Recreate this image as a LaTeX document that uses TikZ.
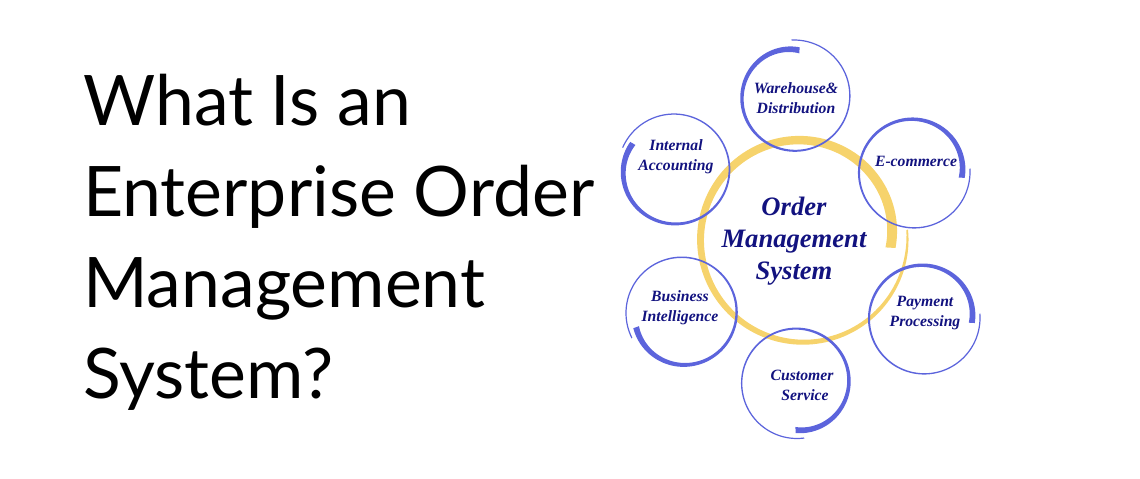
\documentclass[tikz,border=0pt]{standalone}
\usepackage{fontspec}
\setmainfont{Lato}
\newfontfamily\labelfont{Liberation Serif}
\usetikzlibrary{positioning}
\definecolor{ringblue}{HTML}{5C64DC}
\definecolor{hubyellow}{HTML}{F6D36C}
\definecolor{labelnavy}{HTML}{12127F}
\tikzset{
  headline/.style={anchor=base west,align=left,inner sep=0pt,font=\fontsize{69.7}{91}\selectfont},
  ringlabel/.style={align=center,inner sep=0pt,text=labelnavy,font=\labelfont\itshape\bfseries\fontsize{15.7}{20}\selectfont},
  hublabel/.style={align=center,inner sep=0pt,text=labelnavy,font=\labelfont\itshape\bfseries\fontsize{26.6}{32}\selectfont}
}
% centre x, centre y, radius from, to, angle from, to, width from, to, width power
\newcommand{\brushring}[9]{
  \fill plot[variable=\t,domain=0.001:1,samples=150]
    ({#1+(#4+(#3-#4)*(1-pow(\t,3))+(#7+(#8-#7)*pow(\t,#9))/2)*cos(#5+(#6-#5)*\t)},
     {#2-(#4+(#3-#4)*(1-pow(\t,3))+(#7+(#8-#7)*pow(\t,#9))/2)*sin(#5+(#6-#5)*\t)})
    -- plot[variable=\t,domain=1:0.001,samples=150]
    ({#1+(#4+(#3-#4)*(1-pow(\t,3))-(#7+(#8-#7)*pow(\t,#9))/2)*cos(#5+(#6-#5)*\t)},
     {#2-(#4+(#3-#4)*(1-pow(\t,3))-(#7+(#8-#7)*pow(\t,#9))/2)*sin(#5+(#6-#5)*\t)})
    -- cycle;
}
\begin{document}
\begin{tikzpicture}[x=1pt,y=-1pt]
  \useasboundingbox (0,0) rectangle (1140,479);
  \node[headline] (title) at (83,398) {What Is an\\Enterprise Order\\Management\\System?};
  % hub ring
  \begin{scope}[fill=hubyellow]
    \brushring{803}{238}{104.5}{88}{5}{-366.5}{1.5}{10}{0.65}
  \end{scope}
  % outer rings
  \begin{scope}[fill=ringblue]
    \foreach \cx/\cy/\rs/\re/\as/\ae in {794/96/56/46/93/-277,674/170/56/49/157/-213,
      914/172/56/48/4/-367,682/313/56/48/207/-163,924/318/56/48/5/-366,797/383/55.5/47/278/-92}
      {\brushring{\cx}{\cy}{\rs}{\re}{\as}{\ae}{1.2}{6}{2.5}}
  \end{scope}
  \node[hublabel] (order) at (794,241) {Order\\Management\\System};
  \node[ringlabel] (warehouse) at (796,98) {Warehouse\&\\Distribution};
  \node[ringlabel] (internal) at (676,157) {Internal\\Accounting};
  \node[ringlabel] (ecommerce) at (916,161) {E-commerce};
  \node[ringlabel] (business) at (680,308) {Business\\Intelligence};
  \node[ringlabel] (payment) at (925,313) {Payment\\Processing};
  \node[ringlabel] (customer) at (802,385) {Customer\\\hspace{6pt}Service};
\end{tikzpicture}
\end{document}
